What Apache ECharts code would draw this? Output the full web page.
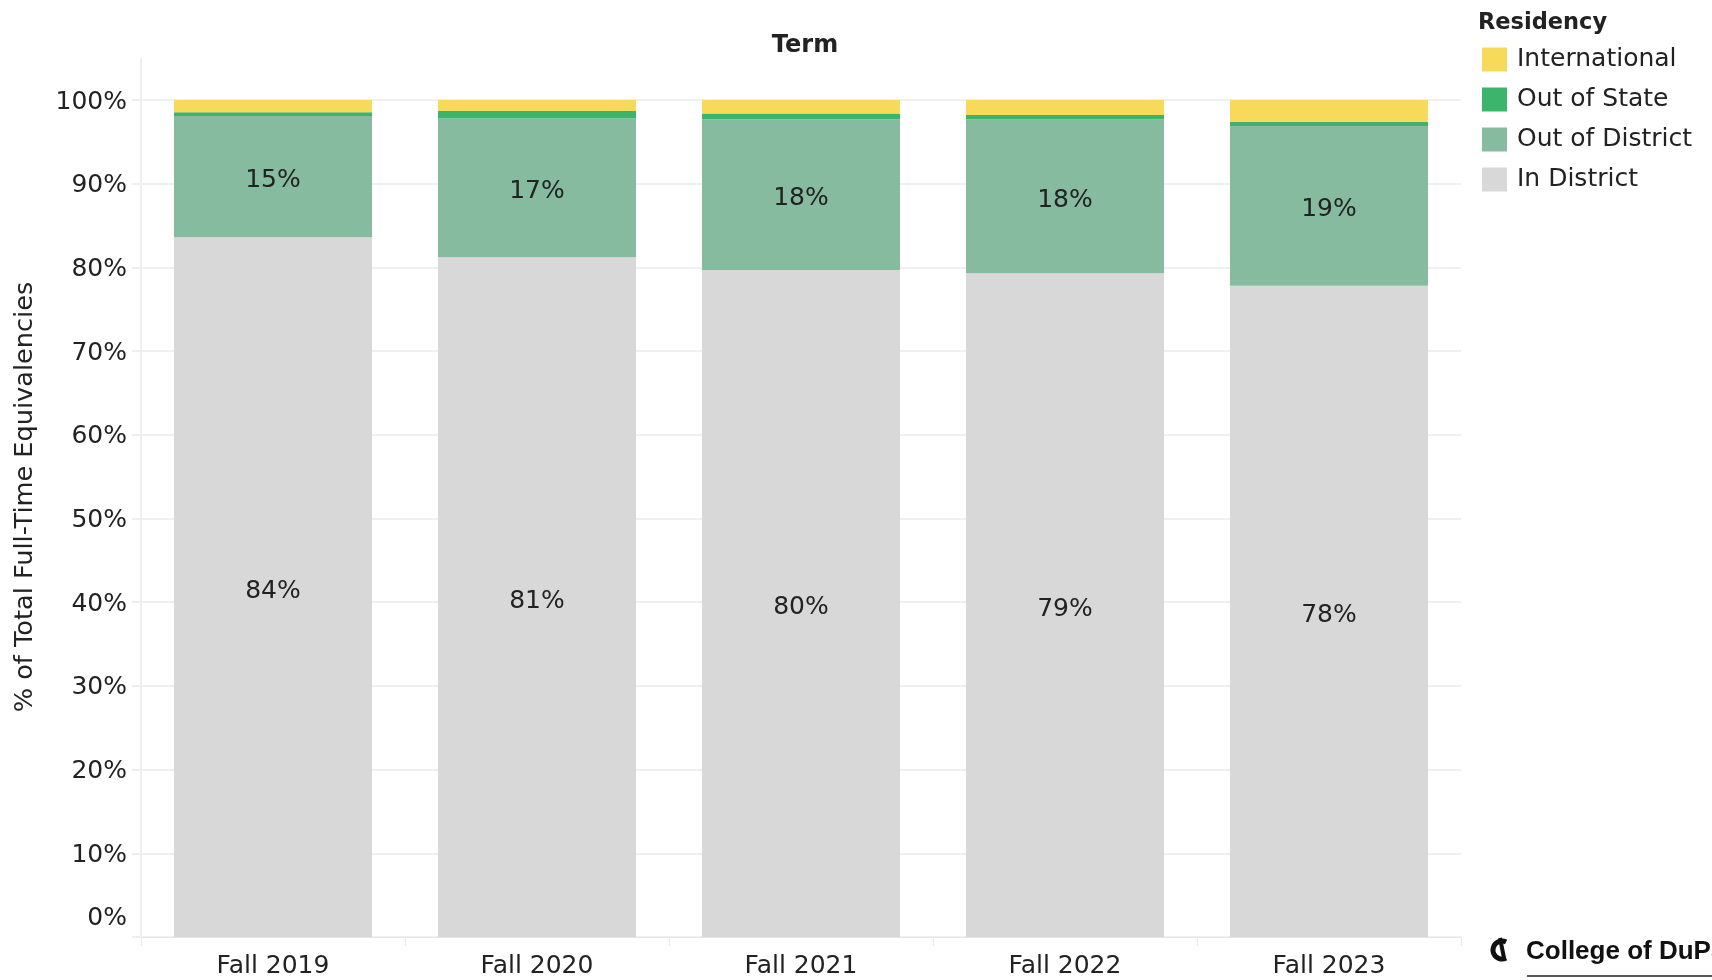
<!DOCTYPE html>
<html>
<head>
<meta charset="utf-8">
<script src="https://cdn.jsdelivr.net/npm/echarts@6/dist/echarts.min.js"></script>
<style>
html,body{margin:0;padding:0;background:#fff;}
#chart{width:1712px;height:980px;}
</style>
</head>
<body>
<div id="chart"></div>
<script>
// ---- data (percent of total FTE) ----
const terms = ['Fall 2019', 'Fall 2020', 'Fall 2021', 'Fall 2022', 'Fall 2023'];
const inDistrict = [83.6, 81.2, 79.7, 79.3, 77.8];
const outOfDistrict = [14.5, 16.6, 18.0, 18.4, 19.1];
const outOfState = [0.45, 0.9, 0.7, 0.5, 0.5];
const international = [1.45, 1.3, 1.6, 1.8, 2.6];
const yTicks = [0, 10, 20, 30, 40, 50, 60, 70, 80, 90, 100];

const FONT = 'DejaVu Sans';
const TXT = '#222';

const chart = echarts.init(document.getElementById('chart'), null, {renderer: 'canvas'});

function labelCfg() {
  return {
    show: true, position: 'inside', offset: [0, 4],
    fontFamily: FONT, fontSize: 25, color: TXT,
    formatter: p => Math.round(p.value) + '%'
  };
}

const option = {
  animation: false,
  backgroundColor: '#fff',
  title: [
    {text: 'Term', left: 800, top: 29, textAlign: 'center',
     textStyle: {fontFamily: FONT, fontSize: 24, fontWeight: 'bold', color: TXT}},
    {text: 'Residency', left: 1473, top: 7,
     textStyle: {fontFamily: FONT, fontSize: 22.5, fontWeight: 'bold', color: TXT}}
  ],
  legend: {
    orient: 'vertical', left: 1477, top: 42,
    itemWidth: 25, itemHeight: 24, itemGap: 15,
    icon: 'rect',
    data: ['International', 'Out of State', 'Out of District', 'In District'],
    textStyle: {fontFamily: FONT, fontSize: 25, color: TXT, lineHeight: 24, padding: [0, 0, 0, 5]},
    selectedMode: false
  },
  grid: {left: 141, right: 251, top: 100, bottom: 43, containLabel: false},
  xAxis: {
    type: 'category', data: terms,
    axisLine: {show: true, lineStyle: {color: '#e6e6e6', width: 1}},
    axisTick: {show: true, length: 9, lineStyle: {color: '#e6e6e6'}},
    axisLabel: {fontFamily: FONT, fontSize: 25, color: TXT, margin: 17}
  },
  yAxis: {
    type: 'value', min: 0, max: 100, interval: 10,
    axisLine: {show: true, lineStyle: {color: '#eeeeee', width: 2}},
    axisTick: {show: true, length: 9, lineStyle: {color: '#eeeeee', width: 2}},
    splitLine: {show: true, lineStyle: {color: '#f0f0f0', width: 2}},
    axisLabel: {
      fontFamily: FONT, fontSize: 25, color: TXT, margin: 14,
      formatter: v => yTicks.indexOf(v) === 0 ? '{z|' + v + '%}' : '{n|' + v + '%}',
      rich: {
        z: {fontFamily: FONT, fontSize: 25, color: TXT, padding: [0, 0, 38, 0]},
        n: {fontFamily: FONT, fontSize: 25, color: TXT, padding: [4, 0, 0, 0]}
      }
    }
  },
  graphic: [
    {type: 'line', shape: {x1: 141, y1: 58, x2: 141, y2: 100}, style: {stroke: '#eeeeee', lineWidth: 2}, silent: true},
    {type: 'text', x: 25, y: 497, rotation: Math.PI / 2, silent: true,
     style: {text: '% of Total Full-Time Equivalencies', font: '25.6px "DejaVu Sans"', fill: TXT, textAlign: 'center', textVerticalAlign: 'middle'}},
    {type: 'text', x: 1526, y: 952, silent: true,
     style: {text: 'College of DuPage', font: 'bold 26px "Liberation Sans"', fill: '#111', textAlign: 'left', textVerticalAlign: 'middle'}},
    {type: 'line', shape: {x1: 1527, y1: 976, x2: 1712, y2: 976}, style: {stroke: '#555', lineWidth: 2}, silent: true},
    {type: 'arc', shape: {cx: 1502, cy: 950, r: 9, startAngle: Math.PI * 0.35, endAngle: Math.PI * 1.65}, style: {stroke: '#111', lineWidth: 5, fill: null}, silent: true},
    {type: 'line', shape: {x1: 1500, y1: 938, x2: 1504, y2: 958}, style: {stroke: '#111', lineWidth: 4}, silent: true}
  ],
  series: [
    {name: 'In District', type: 'bar', stack: 'r', data: inDistrict, barWidth: '75%',
     itemStyle: {color: '#d8d8d8'}, label: labelCfg()},
    {name: 'Out of District', type: 'bar', stack: 'r', data: outOfDistrict,
     itemStyle: {color: '#86bba0'}, label: labelCfg()},
    {name: 'Out of State', type: 'bar', stack: 'r', data: outOfState,
     itemStyle: {color: '#3cb46c'}},
    {name: 'International', type: 'bar', stack: 'r', data: international,
     itemStyle: {color: '#f8da5b'}}
  ]
};
chart.setOption(option);
</script>
</body>
</html>
